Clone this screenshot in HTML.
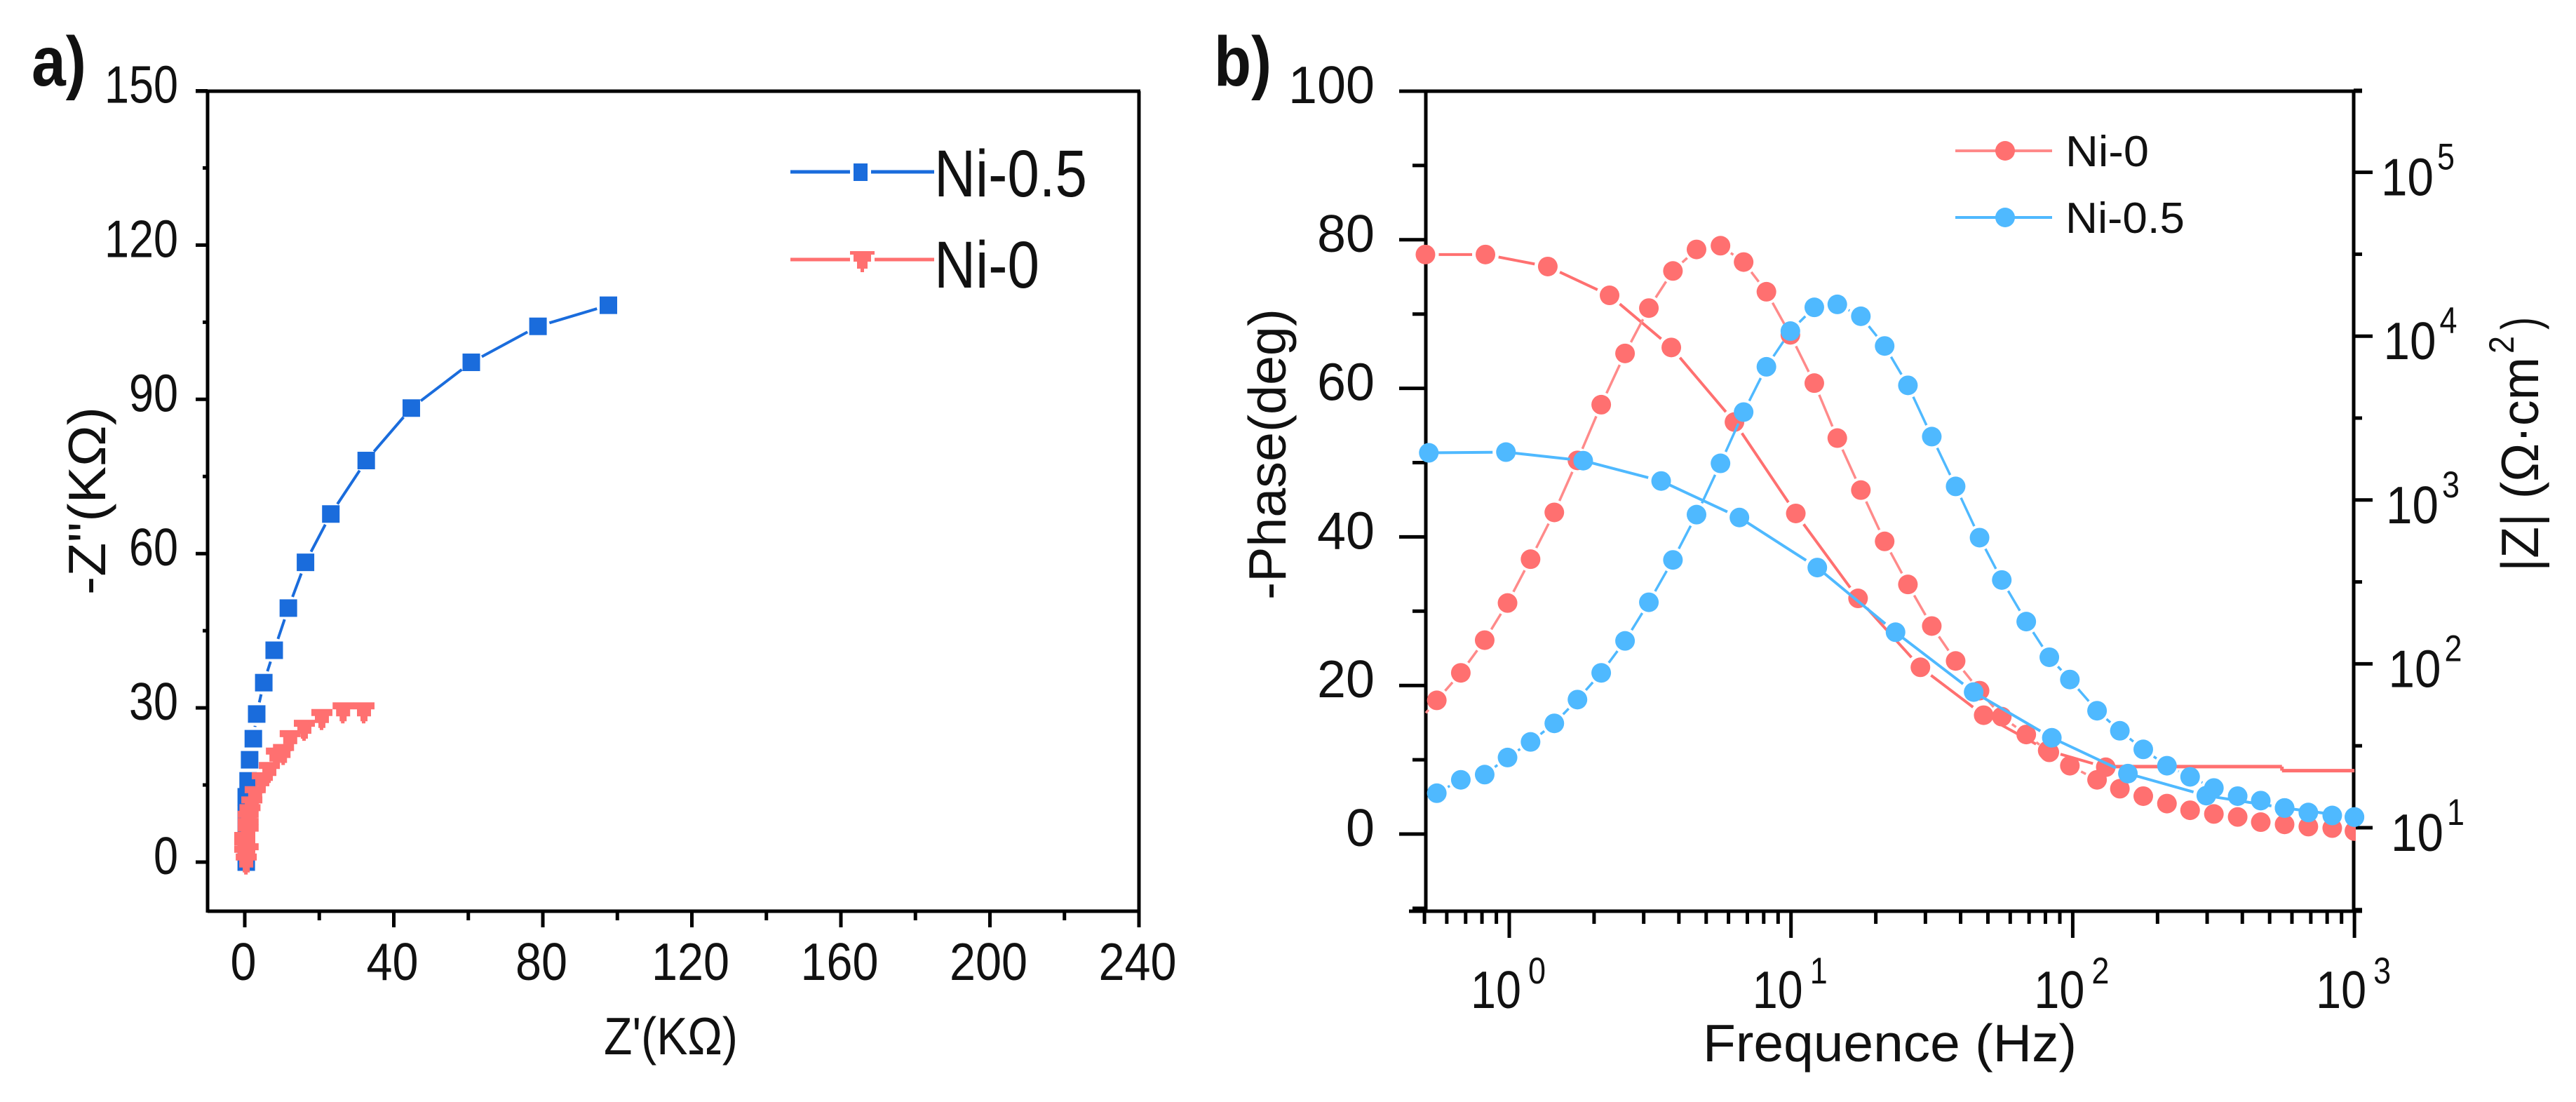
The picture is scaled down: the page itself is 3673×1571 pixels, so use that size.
<!DOCTYPE html>
<html lang="en">
<head>
<meta charset="utf-8">
<title>Nyquist and Bode plots of Ni-0 and Ni-0.5</title>
<style>
html,body{margin:0;padding:0;background:#fff;}
svg{display:block;}
text{font-family:"Liberation Sans",sans-serif;fill:#111;}
</style>
</head>
<body>
<svg id="chart" xmlns="http://www.w3.org/2000/svg" width="3673" height="1571" viewBox="0 0 3673 1571">
  <rect x="0" y="0" width="3673" height="1571" fill="#ffffff"/>
  <defs><clipPath id="plotB"><rect x="2000" y="130" width="1359" height="1169"/></clipPath></defs>

  <text x="45" y="122" font-size="100" font-weight="bold" textLength="78" lengthAdjust="spacingAndGlyphs">a)</text>
  <text x="1731" y="122" font-size="100" font-weight="bold" textLength="82" lengthAdjust="spacingAndGlyphs">b)</text>

  <g id="panelA"></g>
  <g id="panelB"></g>

  <text x="861" y="1503" font-size="75" textLength="191" lengthAdjust="spacingAndGlyphs">Z'(KΩ)</text>
  <text x="150" y="848" font-size="75" textLength="268" lengthAdjust="spacingAndGlyphs" transform="rotate(-90 150 848)">-Z''(KΩ)</text>
  <text x="2428" y="1513" font-size="75" textLength="533" lengthAdjust="spacingAndGlyphs">Frequence (Hz)</text>
  <text x="1833" y="855" font-size="75" textLength="415" lengthAdjust="spacingAndGlyphs" transform="rotate(-90 1833 855)">-Phase(deg)</text>
  <g>
    <text x="3619" y="815" font-size="75" textLength="306" lengthAdjust="spacingAndGlyphs" transform="rotate(-90 3619 815)">|Z| (Ω·cm</text>
    <text x="3584" y="504" font-size="50" textLength="25" lengthAdjust="spacingAndGlyphs" transform="rotate(-90 3584 504)">2</text>
    <text x="3619" y="470" font-size="75" textLength="18" lengthAdjust="spacingAndGlyphs" transform="rotate(-90 3619 470)">)</text>
  </g>

  <g>
    <g>
      <line x1="1127" y1="245" x2="1212" y2="245" stroke="#1a6cdc" stroke-width="5"/>
      <line x1="1242" y1="245" x2="1332" y2="245" stroke="#1a6cdc" stroke-width="5"/>
      <rect x="1217" y="233" width="20" height="25" fill="#1a6cdc"/>
      <text x="1332" y="280" font-size="95" textLength="218" lengthAdjust="spacingAndGlyphs">Ni-0.5</text>
    </g>
    <g>
      <line x1="1127" y1="370" x2="1212" y2="370" stroke="#ff7070" stroke-width="5"/>
      <line x1="1247" y1="370" x2="1332" y2="370" stroke="#ff7070" stroke-width="5"/>
      <polygon points="1212,358 1247,358 1247,363 1242,363 1242,373 1237,373 1237,383 1232,383 1232,388 1227,388 1227,383 1222,383 1222,373 1217,373 1217,363 1212,363" fill="#ff7070"/>
      <text x="1332" y="410" font-size="95" textLength="150" lengthAdjust="spacingAndGlyphs">Ni-0</text>
    </g>
  </g>

  <g>
    <g>
      <line x1="2788" y1="215" x2="2926" y2="215" stroke="#ff8a8a" stroke-width="4"/>
      <circle cx="2859" cy="215" r="14" fill="#ff7070"/>
      <text x="2945" y="237" font-size="62" textLength="119" lengthAdjust="spacingAndGlyphs">Ni-0</text>
    </g>
    <g>
      <line x1="2788" y1="310" x2="2926" y2="310" stroke="#4fb9ff" stroke-width="4"/>
      <circle cx="2859" cy="310" r="14" fill="#4fb9ff"/>
      <text x="2945" y="332" font-size="62" textLength="170" lengthAdjust="spacingAndGlyphs">Ni-0.5</text>
    </g>
  </g>
</svg>

<script>
// ---- Nyquist data (kOhm) ----
const nyquistXTicks = [0, 40, 80, 120, 160, 200, 240];
const nyquistYTicks = [0, 30, 60, 90, 120, 150];
const ni05ZReal = [97.6, 78.7, 60.8, 44.7, 32.6, 23.1, 16.3, 11.7, 7.9, 5.1, 3.2, 2.3, 1.3, 0.9, 0.4, 0.4, 0.4, 0.4, 0.4];
const ni05ZImag = [108.3, 104.2, 97.2, 88.3, 78.1, 67.7, 58.3, 49.4, 41.2, 34.9, 28.8, 24.0, 19.9, 15.8, 12.7, 9.4, 6.0, 3.0, 0.0];
const ni0ZReal = [32.0, 26.4, 20.7, 16.0, 12.2, 10.4, 8.5, 6.6, 4.7, 2.8, 1.9, 1.4, 0.9, 0.9, 0.9, 0.0, 0.0, 0.9, 0.0, 0.4];
const ni0ZImag = [29.3, 29.3, 28.0, 25.9, 23.9, 21.2, 20.5, 17.7, 15.7, 13.0, 11.0, 9.5, 8.2, 6.8, 5.5, 4.1, 2.8, 1.9, 1.4, -0.1];

// ---- Bode data ----
const bodeFreqTickExponents = [0, 1, 2, 3];
const phaseTicks = [0, 20, 40, 60, 80, 100];
const impedanceTickExponents = [1, 2, 3, 4, 5];
const phaseFreq = [0.553, 0.673, 0.818, 0.986, 1.19, 1.445, 1.746, 2.12, 2.576, 3.13, 3.81, 4.62, 5.62, 6.79, 8.18, 9.95, 12.1, 14.6, 17.7, 21.5, 26, 31.6, 38.4, 46.7, 56, 68.4, 82.6, 97.7, 122, 147, 178, 216, 261, 317, 385, 465, 565, 686, 834, 1000];
const phaseNi0 = [18, 21.7, 26.1, 31.1, 37, 43.3, 50.3, 57.8, 64.7, 70.8, 75.8, 78.7, 79.2, 77, 73, 67.2, 60.7, 53.3, 46.3, 39.4, 33.6, 28, 23.3, 19.3, 15.8, 13.4, 11, 9.2, 7.3, 6.1, 5.1, 4.1, 3.2, 2.7, 2.3, 1.6, 1.3, 1, 0.8, 0.4];
const phaseNi05 = [5.5, 7.3, 8, 10.3, 12.4, 14.9, 18.1, 21.7, 26, 31.2, 36.9, 43, 49.9, 56.8, 62.9, 67.7, 70.9, 71.3, 69.7, 65.7, 60.4, 53.5, 46.8, 39.9, 34.2, 28.6, 23.8, 20.8, 16.6, 13.9, 11.4, 9.2, 7.7, 6.2, 5.1, 4.5, 3.5, 2.9, 2.5, 2.3];
const impedanceNi0Freq = [0.504, 0.823, 1.37, 2.27, 3.76, 6.3, 10.4, 17.3, 28.8, 48.3, 81.5, 131];
const impedanceNi0 = [31480, 31480, 26600, 17740, 8530, 2990, 828, 251, 95.3, 48.6, 29.6, 23.4];
const impedanceNi0TailFreq = [131, 553, 553, 1000];
const impedanceNi0Tail = [23.6, 23.6, 22.3, 22.3];
const impedanceNi05Freq = [0.518, 0.973, 1.83, 3.46, 6.56, 12.4, 23.5, 44.5, 84.3, 157, 298, 565, 1000];
const impedanceNi05 = [1941, 1960, 1738, 1306, 782, 387, 156, 67.3, 35.4, 21.4, 15.7, 13.2, 11.6];

// ---- Scales ----
const ax = { left: 296, right: 1624, top: 130, bottom: 1299 };
const bx = { left: 2033, right: 3356, top: 130, bottom: 1299 };
function xA(v) { return 349 + v * 5.3125; }
function yA(v) { return 1229 - v * 7.33; }
function xB(f) { return 2152 + Math.log10(f) * 401.7; }
function yPhase(v) { return 1189 - v * 10.59; }
function yZ(z) { return 1180 - (Math.log10(z) - 1) * 233.6; }

const NS = 'http://www.w3.org/2000/svg';
function shape(parent, tag, attrs) {
  const el = document.createElementNS(NS, tag);
  for (const k in attrs) el.setAttribute(k, attrs[k]);
  parent.appendChild(el);
  return el;
}
function axisLine(parent, x1, y1, x2, y2, w) {
  const el = shape(parent, 'line', { x1: x1, y1: y1, x2: x2, y2: y2, stroke: '#000', 'stroke-width': w || 5 });
  
  
  return el;
}
function tickMark(parent, x1, y1, x2, y2) {
  const el = shape(parent, 'line', { x1: x1, y1: y1, x2: x2, y2: y2, stroke: '#000', 'stroke-width': 5 });
  
  
  return el;
}
function label(parent, s, x, y, size, anchor, width) {
  const el = shape(parent, 'text', { x: x, y: y, 'font-size': size, 'text-anchor': anchor, textLength: width, lengthAdjust: 'spacingAndGlyphs' });
  el.textContent = s;
  
  
  return el;
}
// Line between consecutive points, leaving a gap around each marker.
function gappedLine(parent, xs, ys, gapStart, gapEnd, color, width, name) {
  for (let i = 0; i < xs.length - 1; i++) {
    const dx = xs[i + 1] - xs[i], dy = ys[i + 1] - ys[i];
    const d = Math.hypot(dx, dy);
    if (d <= gapStart + gapEnd) continue;
    const el = shape(parent, 'line', {
      x1: xs[i] + dx / d * gapStart, y1: ys[i] + dy / d * gapStart,
      x2: xs[i + 1] - dx / d * gapEnd, y2: ys[i + 1] - dy / d * gapEnd,
      stroke: color, 'stroke-width': width
    });
    
    
  }
}
// Down-pointing triangle with the stepped look of the low-resolution source.
function steppedTriangle(x, y) {
  const t = y - 13;
  const pts = [[x - 15, t], [x + 15, t], [x + 15, t + 10], [x + 10, t + 10], [x + 10, t + 20], [x + 5, t + 20], [x + 5, t + 27], [x + 2, t + 27], [x + 2, t + 30], [x - 3, t + 30], [x - 3, t + 27], [x - 5, t + 27], [x - 5, t + 20], [x - 10, t + 20], [x - 10, t + 10], [x - 15, t + 10]];
  return pts.map(function (p) { return p[0] + ',' + p[1]; }).join(' ');
}

// ---- Panel A ----
const pA = document.getElementById('panelA');
axisLine(pA, 279, ax.top, ax.right + 2, ax.top);
axisLine(pA, ax.left, ax.top, ax.left, ax.bottom + 2);
axisLine(pA, ax.right, ax.top, ax.right, ax.bottom + 2);
axisLine(pA, ax.left, ax.bottom, ax.right + 2, ax.bottom);
nyquistXTicks.forEach(function (v, i) {
  tickMark(pA, xA(v), ax.bottom, xA(v), 1322);
  if (i < nyquistXTicks.length - 1) {
    const mid = (v + nyquistXTicks[i + 1]) / 2;
    tickMark(pA, xA(mid), ax.bottom, xA(mid), 1312);
  }
  label(pA, String(v), xA(v) - 2, 1397, 75, 'middle', String(v).length * 37);
});
nyquistYTicks.forEach(function (v, i) {
  tickMark(pA, 279, yA(v), ax.left, yA(v));
  if (i < nyquistYTicks.length - 1) {
    const mid = (v + nyquistYTicks[i + 1]) / 2;
    tickMark(pA, 289, yA(mid), ax.left, yA(mid));
  }
  label(pA, String(v), 254, yA(v) + 17, 75, 'end', String(v).length * 35);
});
const ni05X = ni05ZReal.map(xA), ni05Y = ni05ZImag.map(yA);
gappedLine(pA, ni05X, ni05Y, 17, 17, '#1a6cdc', 4, 'ni-0-5-nyquist-line');
ni05X.forEach(function (x, i) {
  const el = shape(pA, 'rect', { x: x - 12.5, y: ni05Y[i] - 12.5, width: 25, height: 25, fill: '#1a6cdc' });
  
  
});
const ni0X = ni0ZReal.map(xA), ni0Y = ni0ZImag.map(yA);
ni0X.forEach(function (x, i) {
  const el = shape(pA, 'polygon', { points: steppedTriangle(x, ni0Y[i]), fill: '#ff7070' });
  
  
});

// ---- Panel B ----
const pB = document.getElementById('panelB');
axisLine(pB, 1995, bx.top, bx.right + 12, bx.top);
axisLine(pB, 2009, bx.bottom, bx.right + 12, bx.bottom);
axisLine(pB, bx.left, bx.top, bx.left, bx.bottom + 2);
axisLine(pB, bx.right, bx.top, bx.right, bx.bottom + 2);
for (let e = -1; e < 3; e++) {
  for (let m = 2; m <= 9; m++) {
    const f = m * Math.pow(10, e);
    if (f < 0.5) continue;
    tickMark(pB, xB(f), bx.bottom, xB(f), 1317);
  }
}
bodeFreqTickExponents.forEach(function (e) {
  const x = xB(Math.pow(10, e));
  tickMark(pB, x, bx.bottom, x, 1337);
  label(pB, '10', x - 55, 1437, 75, 'start', 72);
  label(pB, String(e), x + 27, 1402, 53, 'start', 25);
});
phaseTicks.forEach(function (v) {
  tickMark(pB, 1995, yPhase(v), bx.left, yPhase(v));
  tickMark(pB, 2014, yPhase(v - 10), bx.left, yPhase(v - 10));
  label(pB, String(v), 1960, yPhase(v) + 17, 75, 'end', String(v).length * 41);
});
impedanceTickExponents.forEach(function (e) {
  const y = yZ(Math.pow(10, e));
  tickMark(pB, bx.right, y, 3383, y);
  const yMid = yZ(Math.pow(10, e + 0.5));
  tickMark(pB, bx.right, yMid, 3368, yMid);
  const x0 = 3409 - (e - 1) * 3.5;
  label(pB, '10', x0, y + 33, 75, 'start', 75);
  label(pB, String(e), x0 + 80, y - 4, 53, 'start', 25);
});
const yMinor = yZ(Math.pow(10, 0.5));
tickMark(pB, bx.right, yMinor, 3368, yMinor);

// Series: Ni-0 |Z|
const zN0X = impedanceNi0Freq.map(xB), zN0Y = impedanceNi0.map(yZ);
gappedLine(pB, zN0X, zN0Y, 19, 19, '#ff7070', 4, 'ni-0-impedance-line');
const zN0TailX = impedanceNi0TailFreq.map(xB), zN0TailY = impedanceNi0Tail.map(yZ);
gappedLine(pB, zN0TailX, zN0TailY, 0, 0, '#ff7070', 5, 'ni-0-impedance-tail');
zN0X.forEach(function (x, i) {
  const el = shape(pB, 'circle', { cx: x, cy: zN0Y[i], r: 14, fill: '#ff7070' });
  
  
});

// Series: Ni-0 phase
const gN0 = shape(pB, 'g', { 'clip-path': 'url(#plotB)' });


const pN0X = phaseFreq.map(xB), pN0Y = phaseNi0.map(yPhase);
gappedLine(gN0, pN0X, pN0Y, 18, 18, '#ff8a8a', 3.5, 'ni-0-phase-line');
const leadStartX = bx.left, leadStartY = yPhase(phaseNi0[0]) + 18;
gappedLine(gN0, [leadStartX, pN0X[0]], [leadStartY, pN0Y[0]], 0, 18, '#ff8a8a', 3.5, 'ni-0-phase-line');
pN0X.forEach(function (x, i) {
  const el = shape(gN0, 'circle', { cx: x, cy: pN0Y[i], r: 14, fill: '#ff7070' });
  
  
});

// Series: Ni-0.5 |Z|
const zN5X = impedanceNi05Freq.map(xB), zN5Y = impedanceNi05.map(yZ);
gappedLine(pB, [bx.left].concat(zN5X), [zN5Y[0]].concat(zN5Y), 0, 19, '#4fb9ff', 4, 'ni-0-5-impedance-line');
zN5X.forEach(function (x, i) {
  const el = shape(pB, 'circle', { cx: x, cy: zN5Y[i], r: 14, fill: '#4fb9ff' });
  
  
});

// Series: Ni-0.5 phase
const pN5X = phaseFreq.map(xB), pN5Y = phaseNi05.map(yPhase);
gappedLine(pB, pN5X, pN5Y, 18, 18, '#4fb9ff', 3.5, 'ni-0-5-phase-line');
pN5X.forEach(function (x, i) {
  const el = shape(pB, 'circle', { cx: x, cy: pN5Y[i], r: 14, fill: '#4fb9ff' });
  
  
});
</script>
</body>
</html>
